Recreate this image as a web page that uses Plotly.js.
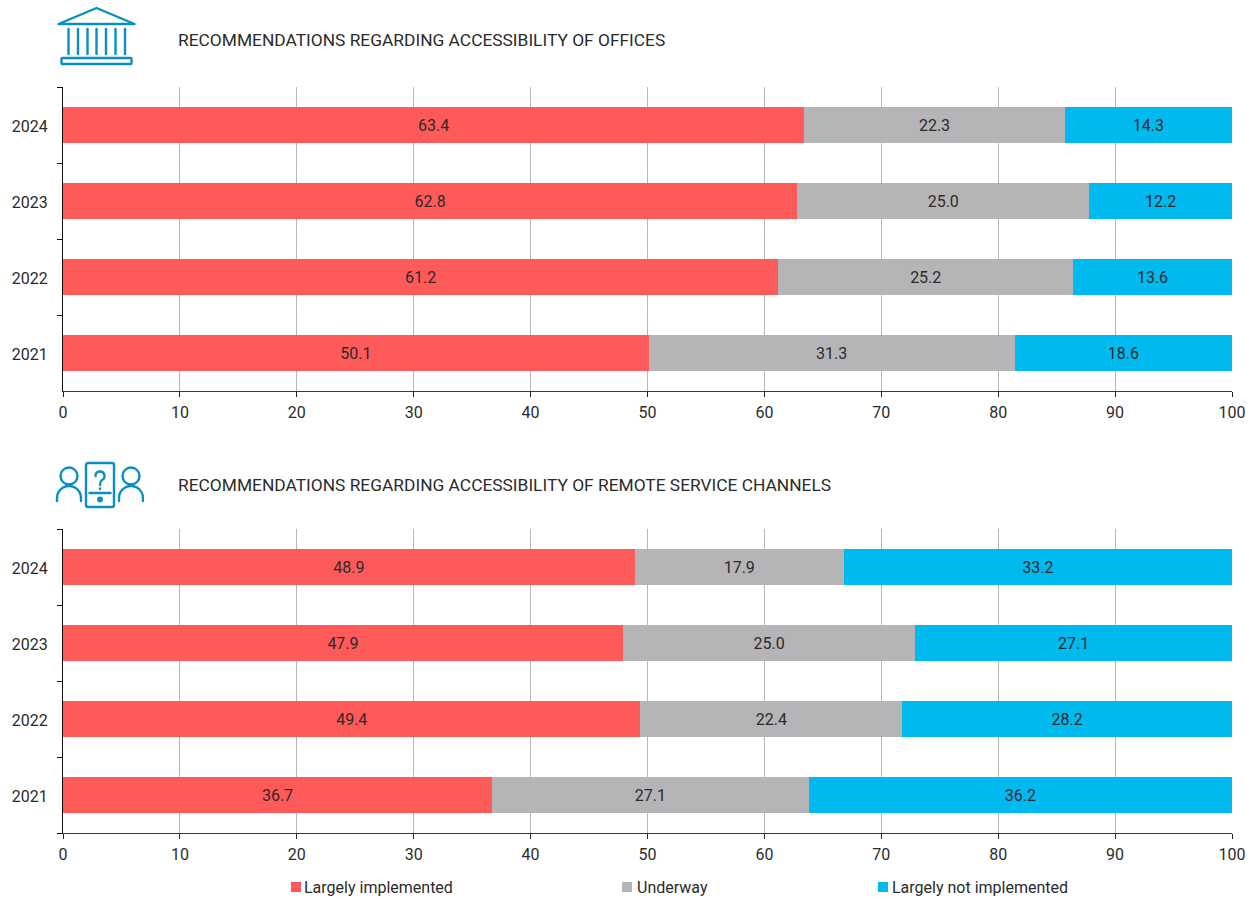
<!DOCTYPE html>
<html>
<head>
<meta charset="utf-8">
<script src="https://cdn.plot.ly/plotly-3.0.1.min.js"></script>
<style>html,body{margin:0;padding:0;background:#fff}#chart{width:1254px;height:900px}</style>
</head>
<body>
<div id="chart"></div>
<script>
const years = ['2021', '2022', '2023', '2024'];
const seriesNames = ['Largely implemented', 'Underway', 'Largely not implemented'];
const seriesColors = ['#FF5A5A', '#B5B5B7', '#00BAEF'];

const officesImplemented = [50.1, 61.2, 62.8, 63.4];
const officesUnderway = [31.3, 25.2, 25.0, 22.3];
const officesNotImplemented = [18.6, 13.6, 12.2, 14.3];

const remoteImplemented = [36.7, 49.4, 47.9, 48.9];
const remoteUnderway = [27.1, 22.4, 25.0, 17.9];
const remoteNotImplemented = [36.2, 28.2, 27.1, 33.2];

const officesTitle = 'RECOMMENDATIONS REGARDING ACCESSIBILITY OF OFFICES';
const remoteTitle = 'RECOMMENDATIONS REGARDING ACCESSIBILITY OF REMOTE SERVICE CHANNELS';

const FONT = 'Roboto, sans-serif';
const INK = '#2b2b2b';
const W = 1254, H = 900, LEFT = 63, RIGHT = 22;

// Pixel position to paper fraction
const px = v => (v - LEFT) / (W - LEFT - RIGHT);
const py = v => 1 - v / H;

function barTrace(values, i, xa, ya) {
  return {
    type: 'bar', orientation: 'h', y: years, x: values,
    xaxis: xa, yaxis: ya, name: seriesNames[i],
    marker: {color: seriesColors[i], line: {width: 0}},
    text: values.map(v => v.toFixed(1)),
    textposition: 'inside', insidetextanchor: 'middle', textangle: 0,
    insidetextfont: {family: FONT, size: 16, color: INK},
    constraintext: 'none', cliponaxis: false,
    showlegend: false, hoverinfo: 'x+name'
  };
}

const traces = [
  barTrace(officesImplemented, 0, 'x', 'y'),
  barTrace(officesUnderway, 1, 'x', 'y'),
  barTrace(officesNotImplemented, 2, 'x', 'y'),
  barTrace(remoteImplemented, 0, 'x2', 'y2'),
  barTrace(remoteUnderway, 1, 'x2', 'y2'),
  barTrace(remoteNotImplemented, 2, 'x2', 'y2')
];

function xAxis(anchor) {
  return {
    anchor, domain: [0, 1], range: [0, 100], dtick: 10, tick0: 0,
    showgrid: true, gridcolor: '#B8B8B8', gridwidth: 1.3, zeroline: false,
    showline: true, linecolor: '#3a3a3a', linewidth: 1.3,
    ticks: 'outside', ticklen: 5, tickwidth: 1.2, tickcolor: '#222',
    ticklabelstandoff: 2,
    tickfont: {family: FONT, size: 16, color: INK}
  };
}
function yAxis(anchor, top, bottom) {
  return {
    anchor, domain: [py(bottom), py(top)], type: 'category',
    categoryorder: 'array', categoryarray: years,
    tickson: 'boundaries', showgrid: false, zeroline: false,
    showline: true, linecolor: '#111', linewidth: 1.3,
    ticks: 'outside', ticklen: 5, tickwidth: 1.2, tickcolor: '#111',
    ticklabelstandoff: 11, ticklabelshift: 1,
    tickfont: {family: FONT, size: 16, color: INK}
  };
}

const STROKE = '#0A8FC4';
function svgUri(w, h, body) {
  const s = `<svg xmlns="http://www.w3.org/2000/svg" width="${w}" height="${h}" viewBox="0 0 ${w} ${h}">` +
    `<g fill="none" stroke="${STROKE}" stroke-width="2.4" stroke-linejoin="round" stroke-linecap="round">${body}</g></svg>`;
  return 'data:image/svg+xml;charset=utf-8,' + encodeURIComponent(s);
}
// Temple pictogram for the offices panel
const templeIcon = svgUri(84, 62,
  '<path d="M3 19 L41 3 L79 19 Z"/>' +
  [13, 22.5, 32, 41, 50.5, 60, 69.5].map(x => `<path d="M${x} 24 V49"/>`).join('') +
  '<rect x="6" y="53" width="70" height="6" rx="0.8"/>');
// Two people and a phone for the remote channels panel
const remoteIcon = svgUri(94, 50,
  '<circle cx="19" cy="16" r="8.5"/><path d="M7 41 V38 A12 12 0 0 1 31 38 V41"/>' +
  '<rect x="36" y="3" width="28" height="44" rx="2"/>' +
  '<path d="M45.5 16 A4.5 4.5 0 1 1 52 20 Q50 21.5 50 25"/><path d="M50 28.5 V29"/>' +
  '<path d="M39.5 33 H60.5"/><circle cx="50" cy="39.5" r="1.8" fill="' + STROKE + '"/>' +
  '<circle cx="81" cy="16" r="8.5"/><path d="M69 41 V38 A12 12 0 0 1 93 38 V41"/>');

// Legend is laid out by hand: the three entries are unevenly spaced
const legendX = [291, 622, 878];
const legendTextX = [302, 635, 890];
const legendShapes = legendX.map((x, i) => ({
  type: 'rect', xref: 'paper', yref: 'paper', layer: 'above',
  x0: px(x), x1: px(x + 10), y0: py(892), y1: py(882),
  fillcolor: seriesColors[i], line: {width: 0}
}));
const legendLabels = legendTextX.map((x, i) => ({
  xref: 'paper', yref: 'paper', x: px(x), y: py(887),
  xanchor: 'left', yanchor: 'middle', showarrow: false, text: seriesNames[i],
  font: {family: FONT, size: 16, color: INK}
}));
const panelTitles = [[officesTitle, 40], [remoteTitle, 485]].map(([text, y]) => ({
  xref: 'paper', yref: 'paper', x: px(176), y: py(y),
  xanchor: 'left', yanchor: 'middle', showarrow: false, text,
  font: {family: FONT, size: 17.35, color: INK}
}));

const layout = {
  width: W, height: H,
  margin: {l: LEFT, r: RIGHT, t: 0, b: 0, pad: 0},
  paper_bgcolor: '#fff', plot_bgcolor: '#fff',
  barmode: 'stack', bargap: 0.526, showlegend: false,
  xaxis: xAxis('y'), yaxis: yAxis('x', 87, 391),
  xaxis2: xAxis('y2'), yaxis2: yAxis('x2', 529, 833),
  shapes: legendShapes,
  annotations: panelTitles.concat(legendLabels),
  images: [
    {source: templeIcon, xref: 'paper', yref: 'paper', x: px(55.5), y: py(5), sizex: 84 / (W - LEFT - RIGHT), sizey: 62 / H, sizing: 'stretch', xanchor: 'left', yanchor: 'top', layer: 'above'},
    {source: remoteIcon, xref: 'paper', yref: 'paper', x: px(50), y: py(460), sizex: 94 / (W - LEFT - RIGHT), sizey: 50 / H, sizing: 'stretch', xanchor: 'left', yanchor: 'top', layer: 'above'}
  ]
};

Plotly.newPlot('chart', traces, layout, {displayModeBar: false, responsive: false});
</script>
</body>
</html>
